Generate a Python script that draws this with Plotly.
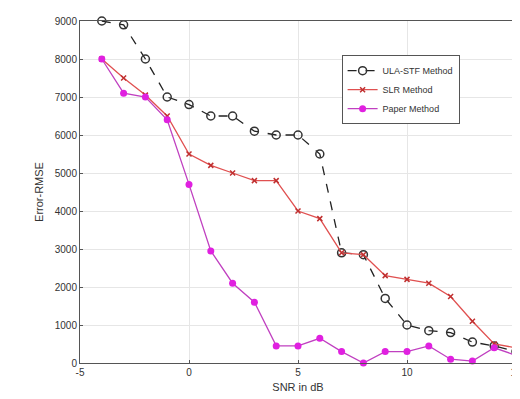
import plotly.graph_objects as go

snr = list(range(-4, 16))
ula = [9000, 8900, 8000, 7000, 6800, 6500, 6500, 6100, 6000, 6000, 5500, 2900, 2850, 1700, 1000, 850, 800, 550, 450, 300]
slr = [8000, 7500, 7050, 6500, 5500, 5200, 5000, 4800, 4800, 4000, 3800, 2900, 2850, 2300, 2200, 2100, 1750, 1100, 500, 400]
paper = [8000, 7100, 7000, 6400, 4700, 2950, 2100, 1600, 450, 450, 650, 300, 0, 300, 300, 450, 100, 50, 400, 200]
x_ticks = [-5, 0, 5, 10, 15]
x_tick_text = ["-5", "0", "5", "10", "15"]

fig = go.Figure()
fig.add_trace(go.Scatter(x=snr, y=ula, name="ULA-STF Method", mode="lines+markers",
                         line=dict(color="#222222", dash="dash", width=1.3),
                         marker=dict(symbol="circle-open", size=8, color="#333333", line=dict(width=1.5))))
fig.add_trace(go.Scatter(x=snr, y=slr, name="SLR Method", mode="lines+markers",
                         line=dict(color="#e05050", width=1.3),
                         marker=dict(symbol="x-thin-open", size=5, color="#c03030", line=dict(width=1.5))))
fig.add_trace(go.Scatter(x=snr, y=paper, name="Paper Method", mode="lines+markers",
                         line=dict(color="#c040c0", width=1.3),
                         marker=dict(symbol="circle", size=7, color="#e020e0")))

fig.update_traces(cliponaxis=False)
fig.update_layout(
    width=520, height=399,
    margin=dict(l=72, r=6, t=13, b=44),
    paper_bgcolor="white", plot_bgcolor="white",
    font=dict(family="Liberation Sans, Arial", size=10, color="#333333"),
    xaxis=dict(range=[-5, 15], tickvals=x_ticks, ticktext=x_tick_text, showgrid=True, gridcolor="#e6e6e6",
               zeroline=False, showline=True, linecolor="#555555", mirror=True, ticks="inside",
               ticklen=3, tickcolor="#555555",
               title=dict(text="SNR in dB", font=dict(size=11), standoff=6)),
    yaxis=dict(range=[0, 9000], tickvals=list(range(0, 9001, 1000)), showgrid=True, gridcolor="#e6e6e6",
               zeroline=False, showline=True, linecolor="#555555", mirror=True, ticks="inside",
               ticklen=3, tickcolor="#555555",
               title=dict(text="Error-RMSE", font=dict(size=11), standoff=8)),
    legend=dict(x=0.6, y=0.9, xanchor="left", yanchor="top", bgcolor="white",
                bordercolor="#555555", borderwidth=1, font=dict(size=9),
                tracegroupgap=0, itemwidth=30),
    showlegend=True,
)

fig.write_html("out.html")
